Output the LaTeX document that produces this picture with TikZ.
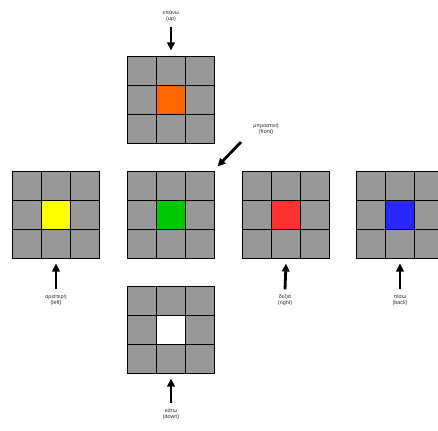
\documentclass[tikz,border=0pt]{standalone}
\usepackage{fontspec}
\setmainfont{Liberation Sans}
\usetikzlibrary{arrows.meta,calc}
\definecolor{facegrey}{RGB}{152,152,152}
\definecolor{cOrange}{RGB}{255,102,0}
\definecolor{cYellow}{RGB}{255,255,0}
\definecolor{cGreen}{RGB}{0,200,0}
\definecolor{cRed}{RGB}{255,50,50}
\definecolor{cBlue}{RGB}{40,40,255}
\begin{document}
\begin{tikzpicture}[x=1pt,y=-1pt,
  face/.style={minimum size=87pt,inner sep=0pt,outer sep=0pt},
  lbl/.style={font=\fontsize{5.4pt}{6.8pt}\selectfont,align=center,inner sep=0.5pt,text=black!85},
  pointer/.style={-{Triangle[length=8pt,width=7.5pt]},line width=2.8pt}]
\useasboundingbox (0,0) rectangle (438,430);
% the six faces of the cube net
\node[face] (up)    at (171,100) {};
\node[face] (left)  at (56,215)  {};
\node[face] (front) at (171,215) {};
\node[face] (right) at (286,215) {};
\node[face] (back)  at (400,215) {};
\node[face] (down)  at (171,330) {};
% grey 3x3 grid with a coloured centre sticker
\foreach \f/\c in {up/cOrange,left/cYellow,front/cGreen,right/cRed,back/cBlue,down/white}{
  \fill[facegrey] (\f.north west) rectangle (\f.south east);
  \fill[\c] ($(\f.north west)!1/3!(\f.south east)$) rectangle ($(\f.north west)!2/3!(\f.south east)$);
  \draw[line width=1.5pt] (\f.north west) rectangle (\f.south east);
  \foreach \k in {1,2}{
    \draw[line width=1.5pt] ($(\f.north west)!\k/3!(\f.north east)$) -- ($(\f.south west)!\k/3!(\f.south east)$);
    \draw[line width=1.5pt] ($(\f.north west)!\k/3!(\f.south west)$) -- ($(\f.north east)!\k/3!(\f.south east)$);
  }
}
% labels
\node[lbl] (lup)    at (171,16)  {επάνω\\(up)};
\node[lbl] (lfront) at (266,129) {μπροστινή\\(front)};
\node[lbl] (lleft)  at (56,300)  {αριστερή\\(left)};
\node[lbl] (lright) at (285,300) {δεξιά\\(right)};
\node[lbl] (lback)  at (400,300) {πίσω\\(back)};
\node[lbl] (ldown)  at (171,414) {κάτω\\(down)};
% pointers
\coordinate (pfront) at (241,142);
\draw[pointer] (lup.south) ++(0,4) -- ($(up.north)+(0,-6)$);
\draw[pointer] (pfront) -- ($(front.north east)+(3,-5)$);
\draw[pointer] (lleft.north) ++(0,-4) -- ($(left.south)+(0,5)$);
\draw[pointer] (lright.north) ++(0,-4) -- ($(right.south)+(0,5)$);
\draw[pointer] (lback.north) ++(0,-4) -- ($(back.south)+(0,5)$);
\draw[pointer] (ldown.north) ++(0,-4) -- ($(down.south)+(0,5)$);
\end{tikzpicture}
\end{document}
